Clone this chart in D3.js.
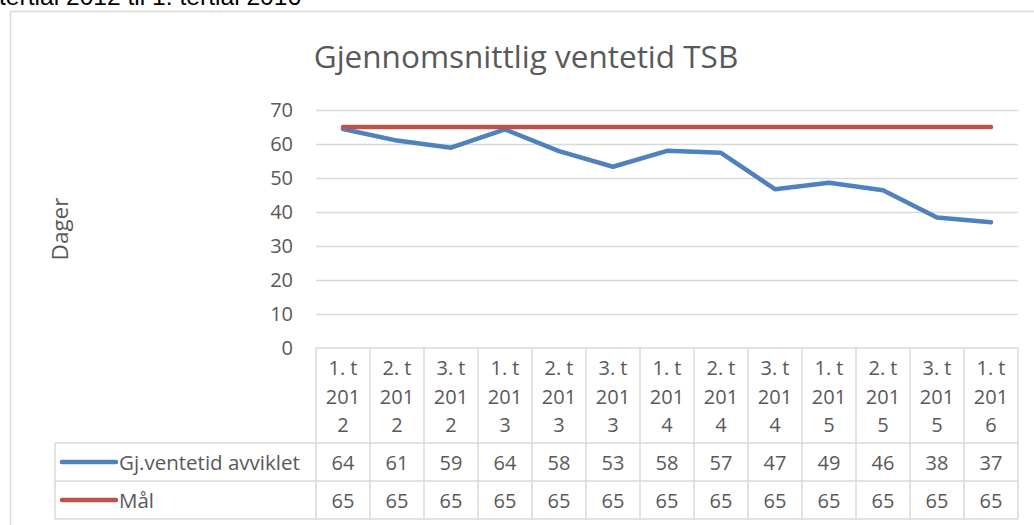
<!DOCTYPE html>
<html><head><meta charset="utf-8">
<script src="https://cdn.jsdelivr.net/npm/d3@7"></script>
<style>
html,body{margin:0;padding:0;background:#fff;overflow:hidden}
svg{display:block}
text{font-family:"Open Sans",sans-serif;fill:#595959}
</style></head><body>
<svg id="chart" width="1034" height="525"></svg>
<script>
const categories = ["1. t 2012","2. t 2012","3. t 2012","1. t 2013","2. t 2013","3. t 2013","1. t 2014","2. t 2014","3. t 2014","1. t 2015","2. t 2015","3. t 2015","1. t 2016"];
const ventetid = [64.4,61.0,58.9,64.3,57.9,53.3,58.0,57.4,46.7,48.6,46.4,38.4,37.0];
const maal = [65,65,65,65,65,65,65,65,65,65,65,65,65];
const seriesNames = ["Gj.ventetid avviklet","Mål"];
const seriesColors = ["#4f81bd","#c0504d"];
const yTicks = [0,10,20,30,40,50,60,70];
const title = "Gjennomsnittlig ventetid TSB";
const yTitle = "Dager";
const aboveText = "tertial 2012 til 1. tertial 2016";

const svg = d3.select("#chart");
const grid = "#d9d9d9";

// text above chart (cut off by the page edge, as in the source)
svg.append("text").attr("x",-1).attr("y",5)
  .style("font-family","'Liberation Sans',Arial,sans-serif").style("font-size","24.6px").style("fill","#000")
  .text(aboveText);

// chart area border
svg.append("rect").attr("x",10.5).attr("y",11.5).attr("width",1060).attr("height",560)
  .attr("fill","#fff").attr("stroke",grid).attr("stroke-width",1.5);

const x = d3.scaleBand().domain(categories).range([316,1018]).padding(0);
const y = d3.scaleLinear().domain([0,70]).range([348,110]);

// gridlines
svg.append("g").selectAll("line").data(yTicks.filter(d=>d>0)).join("line")
  .attr("x1",316).attr("x2",1018).attr("y1",d=>Math.round(y(d))+0.5).attr("y2",d=>Math.round(y(d))+0.5)
  .attr("stroke",grid).attr("stroke-width",1.3);

// y axis labels
const yAxis = d3.axisLeft(y).tickValues(yTicks).tickSize(0).tickPadding(0);
const ya = svg.append("g").attr("transform","translate(293,0)").call(yAxis);
ya.select(".domain").remove();
ya.selectAll("text").style("font-size","20px").style("font-family","'Open Sans',sans-serif").attr("fill","#595959");

// y title
svg.append("text").attr("transform","translate(68,229) rotate(-90)").attr("text-anchor","middle")
  .style("font-size","22.5px").text(yTitle);

// title
svg.append("text").attr("x",526).attr("y",68).attr("text-anchor","middle")
  .style("font-size","31.5px").text(title);

// table
const tTop = 348, hBot = 443, r1Bot = 481, r2Bot = 519, legL = 55;
const tbl = svg.append("g").attr("stroke",grid).attr("stroke-width",1.5);
const bounds = categories.map(c=>x(c)).concat([x.range()[1]]);
tbl.selectAll("line.v").data(bounds).join("line").attr("class","v")
  .attr("x1",d=>d).attr("x2",d=>d).attr("y1",tTop).attr("y2",r2Bot);
tbl.append("line").attr("x1",legL).attr("x2",legL).attr("y1",hBot).attr("y2",r2Bot);
tbl.append("line").attr("x1",316).attr("x2",1018).attr("y1",tTop).attr("y2",tTop);
[hBot,r1Bot,r2Bot].forEach(yy=>tbl.append("line").attr("x1",legL).attr("x2",1018).attr("y1",yy).attr("y2",yy));

// header labels with wrapping
const maxW = 42;
const hdr = svg.append("g");
categories.forEach(c=>{
  const t = hdr.append("text").attr("text-anchor","middle").style("font-size","20px")
    .attr("x",x(c)+x.bandwidth()/2);
  const words = c.split(" ");
  const lines = [];
  let cur = "";
  const meas = s=>{ t.text(s); return t.node().getComputedTextLength(); };
  words.forEach(w=>{
    const cand = cur ? cur+" "+w : w;
    if (meas(cand) <= maxW) { cur = cand; }
    else {
      if (cur) lines.push(cur);
      cur = "";
      let piece = "";
      for (const ch of w) {
        if (meas(piece+ch) <= maxW) piece += ch; else { lines.push(piece); piece = ch; }
      }
      cur = piece;
    }
  });
  if (cur) lines.push(cur);
  t.text(null);
  lines.forEach((l,i)=>t.append("tspan").attr("x",x(c)+x.bandwidth()/2).attr("y",375+i*28.5).text(l));
});

// value rows + legend
const rows = [ventetid, maal];
const rowBase = [470,508];
const rowMid = [462,500];
rows.forEach((vals,ri)=>{
  svg.append("g").selectAll("text").data(vals).join("text")
    .attr("x",(d,i)=>x(categories[i])+x.bandwidth()/2).attr("y",rowBase[ri])
    .attr("text-anchor","middle").style("font-size","20px").text(d=>Math.round(d));
  svg.append("line").attr("x1",62).attr("x2",116).attr("y1",rowMid[ri]).attr("y2",rowMid[ri])
    .attr("stroke",seriesColors[ri]).attr("stroke-width",4.5).attr("stroke-linecap","round");
  svg.append("text").attr("x",119).attr("y",rowBase[ri]).style("font-size","20.5px").text(seriesNames[ri]);
});

// lines
const line = d3.line().x((d,i)=>x(categories[i])+x.bandwidth()/2).y(d=>y(d));
[ventetid, maal].forEach((vals,ri)=>{
  svg.append("path").datum(vals).attr("d",line).attr("fill","none")
    .attr("stroke",seriesColors[ri]).attr("stroke-width",4.5)
    .attr("stroke-linecap","round").attr("stroke-linejoin","round");
});
</script>
</body></html>
